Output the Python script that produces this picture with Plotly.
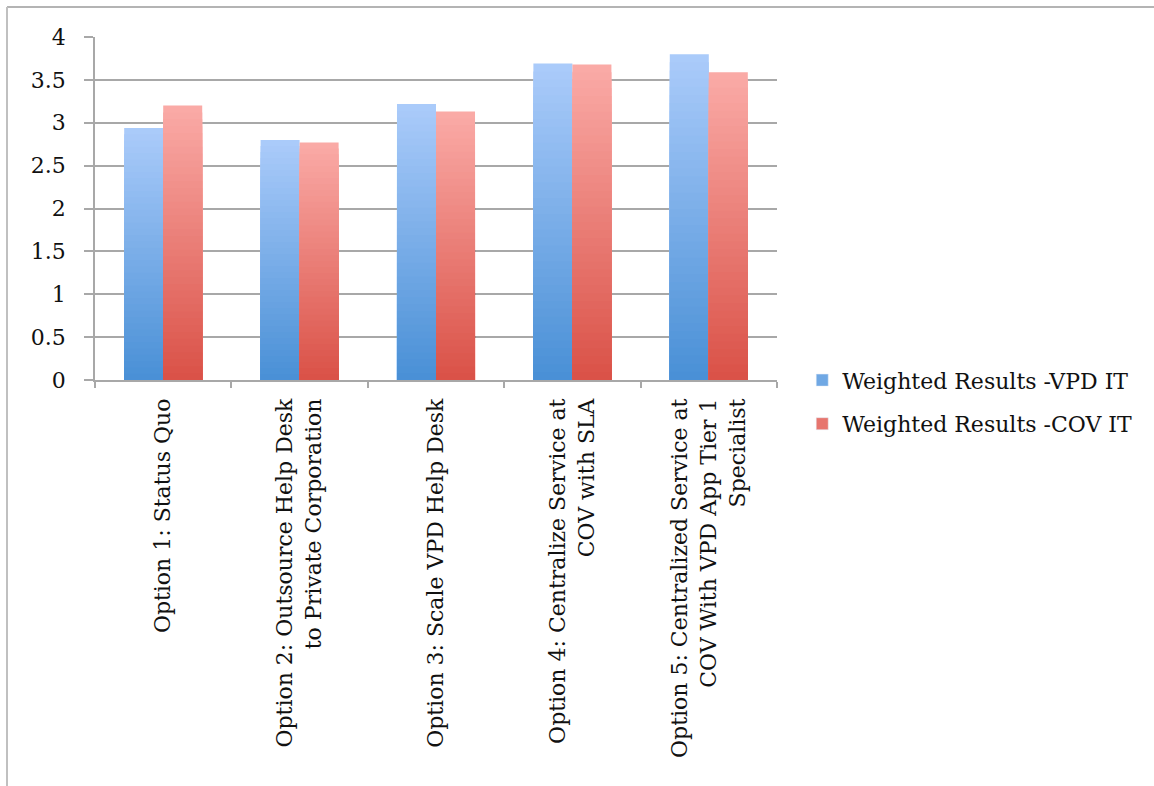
import plotly.graph_objects as go

categories = [
    "Option 1: Status Quo",
    "Option 2: Outsource Help Desk<br>to Private Corporation",
    "Option 3: Scale VPD Help Desk",
    "Option 4: Centralize Service at<br>COV with SLA",
    "Option 5: Centralized Service at<br>COV With VPD App Tier 1<br>Specialist",
]
vpd_it = [2.94, 2.80, 3.22, 3.69, 3.80]
cov_it = [3.20, 2.77, 3.13, 3.68, 3.59]
series_names = ["Weighted Results -VPD IT", "Weighted Results -COV IT"]
y_ticks = [0, 0.5, 1, 1.5, 2, 2.5, 3, 3.5, 4]
y_tick_text = ["0", "0.5", "1", "1.5", "2", "2.5", "3", "3.5", "4"]

FONT = "DejaVu Serif"
N = 40  # gradient steps

def lerp(c1, c2, t):
    return "rgb(%d,%d,%d)" % tuple(round(a + (b - a) * t) for a, b in zip(c1, c2))

styles = [
    # (top colour, bottom colour, offset)
    ((170, 203, 250), (74, 144, 214), -0.286),
    ((250, 170, 166), (218, 82, 72), 0.0),
]

fig = go.Figure()
for s, (vals, name) in enumerate(zip([vpd_it, cov_it], series_names)):
    top, bot, off = styles[s]
    for k in range(N):
        frac = (N - k) / N
        t = k / (N - 1)
        fig.add_trace(go.Bar(
            x=categories,
            y=[v * frac for v in vals],
            width=0.286,
            offset=off,
            marker=dict(color=lerp(top, bot, t), line=dict(width=0)),
            name=name,
            legendgroup=name,
            showlegend=False,
            hoverinfo="skip",
        ))
    # legend entry
    fig.add_trace(go.Bar(
        x=[categories[0]], y=[None],
        marker=dict(color=lerp(top, bot, 0.6)),
        name=name, legendgroup=name, showlegend=True,
    ))

fig.update_layout(
    width=1154, height=786,
    barmode="overlay",
    bargap=0.42,
    plot_bgcolor="white",
    paper_bgcolor="white",
    margin=dict(l=95, r=377, t=37, b=406, autoexpand=False),
    font=dict(family=FONT, size=22, color="#111111"),
    legend=dict(
        x=1.037, y=-0.065, xanchor="left", yanchor="middle",
        font=dict(family=FONT, size=22, color="#111111"),
        traceorder="grouped", tracegroupgap=12,
        itemwidth=30, bgcolor="rgba(0,0,0,0)",
    ),
    xaxis=dict(
        type="category",
        tickangle=-90,
        showline=True, linecolor="#a8a8a8", linewidth=1.5,
        ticks="outside", tickson="boundaries", ticklen=6, tickcolor="#a8a8a8", tickwidth=1.5,
        showgrid=False,
        ticklabelstandoff=8,
        tickfont=dict(family=FONT, size=22, color="#111111"),
        range=[-0.5, 4.5],
    ),
    yaxis=dict(
        range=[0, 4],
        tickvals=y_ticks, ticktext=y_tick_text,
        showline=True, linecolor="#a8a8a8", linewidth=1.5,
        showgrid=True, gridcolor="#a8a8a8", gridwidth=1.5,
        ticks="outside", ticklen=9, tickcolor="#a8a8a8", tickwidth=1.5,
        ticklabelstandoff=14,
        zeroline=False,
        tickfont=dict(family=FONT, size=22, color="#111111"),
    ),
    shapes=[
        dict(type="line", xref="paper", yref="paper",
             x0=(7 - 95) / 682, x1=(1154 - 95) / 682, y0=1 + 30 / 343, y1=1 + 30 / 343,
             line=dict(color="#b4b4b4", width=2)),
        dict(type="line", xref="paper", yref="paper",
             x0=(7 - 95) / 682, x1=(7 - 95) / 682, y0=1 + 30 / 343, y1=-406 / 343,
             line=dict(color="#c0c0c0", width=2)),
    ],
)

fig.write_html("out.html")
